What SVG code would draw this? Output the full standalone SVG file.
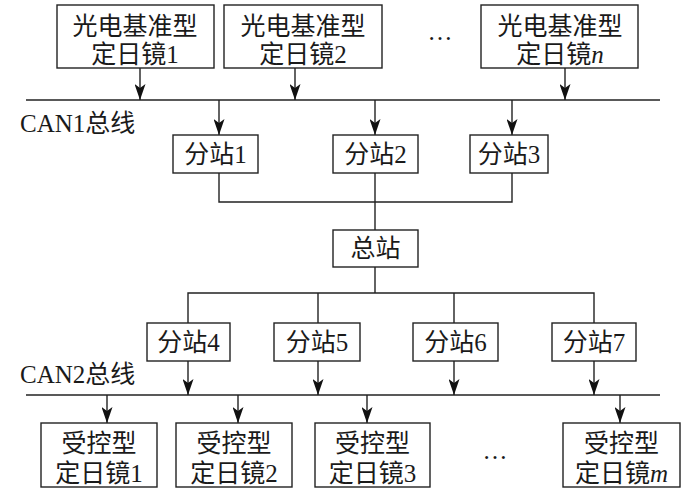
<svg xmlns="http://www.w3.org/2000/svg" width="700" height="493" viewBox="0 0 700 493">
<style>
rect{fill:#fff;stroke:#222;stroke-width:1.4}
text{font-family:"Liberation Serif","Noto Sans CJK SC",serif;font-size:25px;fill:#1a1a1a;text-anchor:middle}
.l{text-anchor:start}
#connectors path{fill:none;stroke:#222;stroke-width:1.4}
</style>
<defs>
<marker id="ar" markerUnits="userSpaceOnUse" markerWidth="17" markerHeight="11" refX="16" refY="5.5" orient="auto" viewBox="0 0 17 11">
<path d="M0,0 L16,5.5 L0,11 L4,5.5 Z" fill="#111"/>
</marker>
</defs>
<g id="connectors">
<path d="M26,100 H660"/>
<path d="M26,395 H660"/>
<path d="M140,68 V100" marker-end="url(#ar)"/>
<path d="M295,68 V100" marker-end="url(#ar)"/>
<path d="M565,68 V100" marker-end="url(#ar)"/>
<path d="M219,100 V135" marker-end="url(#ar)"/>
<path d="M375,100 V135" marker-end="url(#ar)"/>
<path d="M512,100 V135" marker-end="url(#ar)"/>
<path d="M219,173 V202 H512 V173"/>
<path d="M375,173 V230"/>
<path d="M375,267 V293"/>
<path d="M188,323 V293 H594 V323"/>
<path d="M318,293 V323"/>
<path d="M454,293 V323"/>
<path d="M188,361 V395" marker-end="url(#ar)"/>
<path d="M318,361 V395" marker-end="url(#ar)"/>
<path d="M454,361 V395" marker-end="url(#ar)"/>
<path d="M594,361 V395" marker-end="url(#ar)"/>
<path d="M107,395 V423" marker-end="url(#ar)"/>
<path d="M238,395 V423" marker-end="url(#ar)"/>
<path d="M367,395 V423" marker-end="url(#ar)"/>
<path d="M620,395 V423" marker-end="url(#ar)"/>
</g>
<g id="labels">
<text class="l" x="20" y="132">CAN1总线</text>
<text class="l" x="20" y="383">CAN2总线</text>
<text x="440" y="40">…</text>
<text x="495" y="459">…</text>
</g>
<g id="ref1"><rect x="57" y="5" width="157" height="63"/><text x="135" y="35">光电基准型</text><text x="135" y="63">定日镜1</text></g>
<g id="ref2"><rect x="224" y="5" width="158" height="63"/><text x="303" y="35">光电基准型</text><text x="303" y="63">定日镜2</text></g>
<g id="refn"><rect x="481" y="5" width="157" height="63"/><text x="560" y="35">光电基准型</text><text x="560" y="63">定日镜<tspan font-style="italic">n</tspan></text></g>
<g id="sub1"><rect x="173" y="135" width="85" height="38"/><text x="215.5" y="163">分站1</text></g>
<g id="sub2"><rect x="333" y="135" width="85" height="38"/><text x="375.5" y="163">分站2</text></g>
<g id="sub3"><rect x="470" y="135" width="78" height="38"/><text x="509" y="163">分站3</text></g>
<g id="master"><rect x="333" y="230" width="85" height="37"/><text x="375.5" y="257">总站</text></g>
<g id="sub4"><rect x="147" y="323" width="83" height="38"/><text x="188.5" y="351">分站4</text></g>
<g id="sub5"><rect x="274" y="323" width="86" height="38"/><text x="317" y="351">分站5</text></g>
<g id="sub6"><rect x="413" y="323" width="85" height="38"/><text x="455.5" y="351">分站6</text></g>
<g id="sub7"><rect x="552" y="323" width="84" height="38"/><text x="594" y="351">分站7</text></g>
<g id="rec1"><rect x="41" y="423" width="116" height="64"/><text x="99" y="452">受控型</text><text x="99" y="482">定日镜1</text></g>
<g id="rec2"><rect x="176" y="423" width="116" height="64"/><text x="234" y="452">受控型</text><text x="234" y="482">定日镜2</text></g>
<g id="rec3"><rect x="315" y="423" width="115" height="64"/><text x="372.5" y="452">受控型</text><text x="372.5" y="482">定日镜3</text></g>
<g id="recm"><rect x="563" y="423" width="117" height="64"/><text x="621.5" y="452">受控型</text><text x="621.5" y="482">定日镜<tspan font-style="italic">m</tspan></text></g>
</svg>
